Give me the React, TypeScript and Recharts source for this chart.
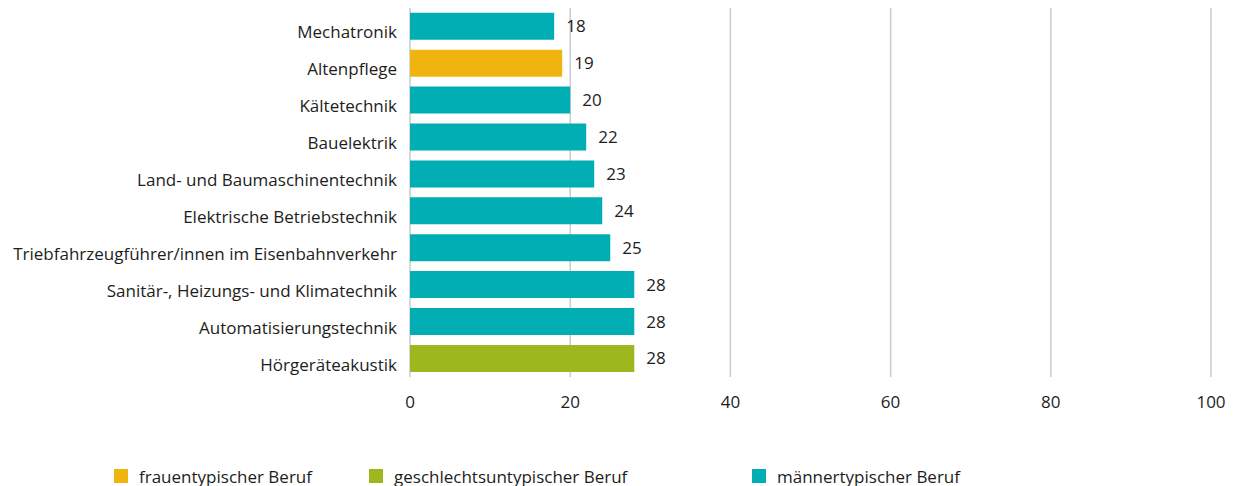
import { Bar, BarChart, CartesianGrid, Cell, LabelList, XAxis, YAxis } from 'recharts';

const berufe = [
    "Mechatronik",
    "Altenpflege",
    "Kältetechnik",
    "Bauelektrik",
    "Land- und Baumaschinentechnik",
    "Elektrische Betriebstechnik",
    "Triebfahrzeugführer/innen im Eisenbahnverkehr",
    "Sanitär-, Heizungs- und Klimatechnik",
    "Automatisierungstechnik",
    "Hörgeräteakustik",
];
const werte = [18, 19, 20, 22, 23, 24, 25, 28, 28, 28];
const typ = ["m", "f", "m", "m", "m", "m", "m", "m", "m", "n"];

const xTicks = [0, 20, 40, 60, 80, 100];

const legendItems = [
    { key: "f", label: "frauentypischer Beruf" },
    { key: "n", label: "geschlechtsuntypischer Beruf" },
    { key: "m", label: "männertypischer Beruf" },
];

const colors: Record<string, string> = {
    f: "#F0B40F",
    n: "#9DB71F",
    m: "#00AEB3",
};

const font = "'Open Sans', sans-serif";
const textColor = "#1d1d1b";
const fontSize = 17;

const data = berufe.map((name, i) => ({ name, value: werte[i], typ: typ[i] }));

export default function App() {
    return (
        <div style={{ position: "absolute", left: 0, top: 0, width: 1234, height: 486, fontFamily: font }}>
            <BarChart
                width={1234}
                height={486}
                data={data}
                layout="vertical"
                barCategoryGap="13%"
                margin={{ top: 8, right: 23, bottom: 79, left: 0 }}
            >
                <CartesianGrid horizontal={false} stroke="#c9cdd1" strokeWidth={1.5} />
                <XAxis
                    type="number"
                    domain={[0, 100]}
                    ticks={xTicks}
                    axisLine={false}
                    tickLine={false}
                    tickSize={0}
                    tickMargin={19}
                    height={30}
                    tick={{ fill: textColor, fontSize, fontFamily: font }}
                />
                <YAxis
                    type="category"
                    dataKey="name"
                    width={410}
                    axisLine={false}
                    tickLine={false}
                    tickSize={0}
                    tickMargin={13}
                    interval={0}
                    tick={{ fill: textColor, fontSize, fontFamily: font, dy: 6 }}
                />
                <Bar dataKey="value" isAnimationActive={false}>
                    {data.map((d) => (
                        <Cell key={d.name} fill={colors[d.typ]} />
                    ))}
                    <LabelList
                        dataKey="value"
                        position="right"
                        offset={12}
                        style={{ fill: textColor, fontSize, fontFamily: font }}
                    />
                </Bar>
            </BarChart>
            <div style={{ position: "absolute", top: 468, left: 0, width: 1234, height: 16 }}>
                {legendItems.map((item, i) => (
                    <div
                        key={item.key}
                        style={{
                            position: "absolute",
                            left: [114, 369, 752][i],
                            top: 0,
                            height: 16,
                            display: "flex",
                            alignItems: "center",
                            gap: 11,
                            fontSize,
                            color: textColor,
                            whiteSpace: "nowrap",
                        }}
                    >
                        <div style={{ width: 14, height: 14, backgroundColor: colors[item.key] }} />
                        <span>{item.label}</span>
                    </div>
                ))}
            </div>
        </div>
    );
}
